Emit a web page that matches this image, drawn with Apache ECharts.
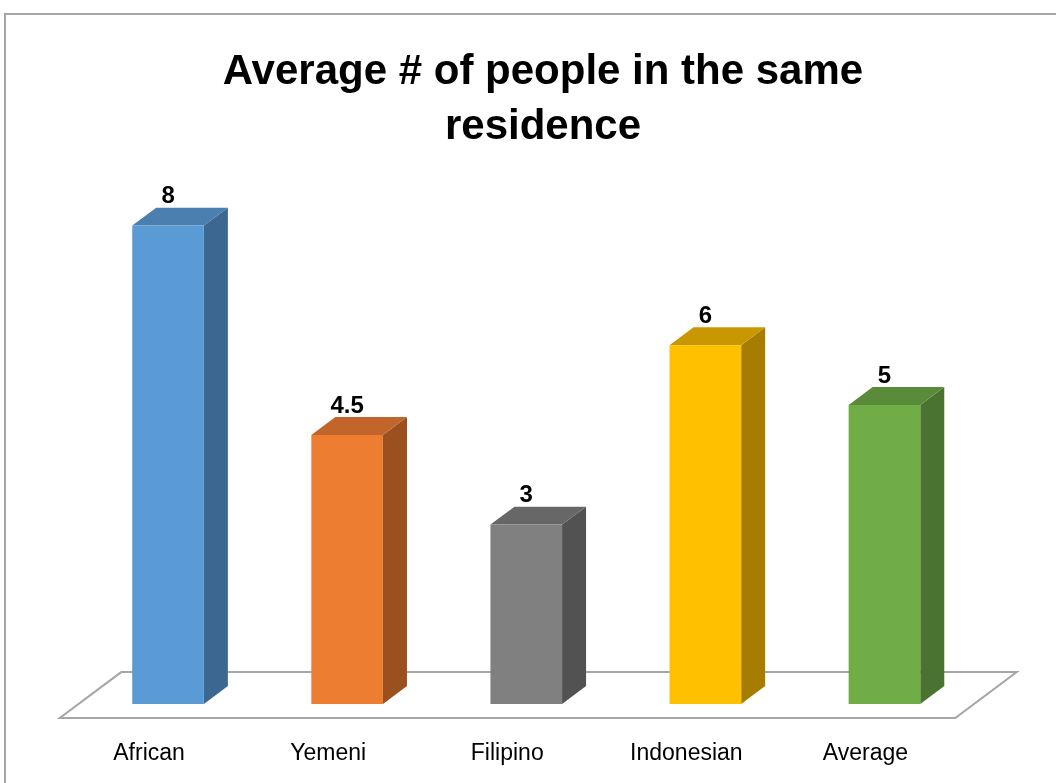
<!DOCTYPE html>
<html>
<head>
<meta charset="utf-8">
<script src="https://cdn.jsdelivr.net/npm/echarts@6/dist/echarts.min.js"></script>
<style>
  html, body { margin: 0; padding: 0; background: #ffffff; }
  #chart { width: 1056px; height: 783px; }
</style>
</head>
<body>
<div id="chart"></div>
<script>
// Chart data
const categories = ['African', 'Yemeni', 'Filipino', 'Indonesian', 'Average'];
const values = [8, 4.5, 3, 6, 5];
const valueLabels = ['8', '4.5', '3', '6', '5'];

// Face colours for each bar: front, top, side
const frontColors = ['#5b9bd5', '#ed7d31', '#808080', '#ffc000', '#70ad47'];
const topColors = ['#4a7fb0', '#c2652a', '#676767', '#c99800', '#5a8b3a'];
const sideColors = ['#3b6790', '#9b501f', '#525252', '#a67d00', '#4a7230'];

const chart = echarts.init(document.getElementById('chart'), null, { renderer: 'canvas' });

// Depth of the 3D extrusion, relative to the category band width
const DEPTH_X = 0.134;
const DEPTH_Y = 0.100;
const BAR_RATIO = 0.40;

function renderFloor(params, api) {
  const cs = params.coordSys;
  const band = api.size([1, 0])[0];
  const dx = band * DEPTH_X, dy = band * DEPTH_Y;
  const y0 = cs.y + cs.height;
  const x0 = cs.x, x1 = cs.x + cs.width;
  const f = 0.78, b = 1.78;
  const pts = [
    [x0 - f * dx, y0 + f * dy],
    [x1 - f * dx, y0 + f * dy],
    [x1 + b * dx, y0 - b * dy],
    [x0 + b * dx, y0 - b * dy]
  ];
  return {
    type: 'polygon',
    shape: { points: pts },
    style: { fill: '#ffffff', stroke: '#a6a6a6', lineWidth: 2 },
    silent: true
  };
}

function renderBar(params, api) {
  const idx = api.value(0);
  const val = api.value(1);
  const base = api.coord([idx, 0]);
  const top = api.coord([idx, val]);
  const band = api.size([1, 0])[0];
  const w = band * BAR_RATIO;
  const dx = band * DEPTH_X, dy = band * DEPTH_Y;
  const xl = base[0] - w / 2, xr = base[0] + w / 2;
  const yb = base[1], yt = top[1];
  const i = params.dataIndex;
  return {
    type: 'group',
    children: [
      {
        type: 'polygon',
        shape: { points: [[xr, yb], [xr + dx, yb - dy], [xr + dx, yt - dy], [xr, yt]] },
        style: { fill: sideColors[i] }
      },
      {
        type: 'polygon',
        shape: { points: [[xl, yt], [xl + dx, yt - dy], [xr + dx, yt - dy], [xr, yt]] },
        style: { fill: topColors[i] }
      },
      {
        type: 'rect',
        shape: { x: xl, y: yt, width: w, height: yb - yt },
        style: { fill: frontColors[i] }
      },
      {
        type: 'text',
        x: base[0],
        y: yt - dy + 1,
        style: {
          text: valueLabels[i],
          fill: '#000000',
          font: 'bold 24px "Liberation Sans", Arial, sans-serif',
          align: 'center',
          verticalAlign: 'bottom'
        }
      }
    ]
  };
}

chart.setOption({
  backgroundColor: '#ffffff',
  animation: false,
  title: {
    text: 'Average # of people in the same\nresidence',
    left: 538,
    top: 40,
    textAlign: 'center',
    textStyle: {
      fontFamily: '"Liberation Sans", Arial, sans-serif',
      fontSize: 42,
      fontWeight: 'bold',
      color: '#000000',
      lineHeight: 55
    }
  },
  grid: { left: 78.5, right: 82, top: 106, bottom: 79 },
  xAxis: {
    type: 'category',
    data: categories,
    axisLine: { show: false },
    axisTick: { show: false },
    splitLine: { show: false },
    axisLabel: {
      margin: 38,
      padding: [0, 38, 0, 0],
      fontFamily: '"Liberation Sans", Arial, sans-serif',
      fontSize: 23,
      lineHeight: 24,
      color: '#000000'
    }
  },
  yAxis: {
    type: 'value',
    min: 0,
    max: 10,
    show: false,
    splitLine: { show: false }
  },
  graphic: [
    {
      type: 'rect',
      shape: { x: 5, y: 14, width: 1200, height: 900 },
      style: { fill: 'none', stroke: '#a6a6a6', lineWidth: 2 },
      silent: true,
      z: 0
    }
  ],
  series: [
    {
      type: 'custom',
      name: 'floor',
      renderItem: renderFloor,
      data: [[0, 0]],
      z: 1,
      silent: true
    },
    {
      type: 'custom',
      name: 'bars',
      renderItem: renderBar,
      data: values.map((v, i) => [i, v]),
      z: 2,
      silent: true
    }
  ]
});
</script>
</body>
</html>
